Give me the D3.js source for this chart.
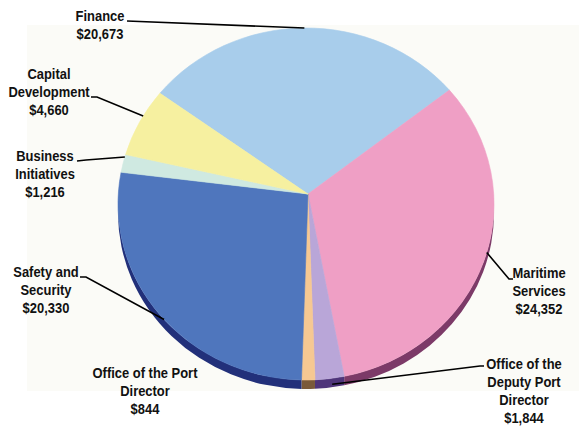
<!DOCTYPE html>
<html>
<head>
<meta charset="utf-8">
<script src="https://cdn.jsdelivr.net/npm/d3@7"></script>
<style>
  body { margin: 0; background: #ffffff; }
  svg text { font-family: "Liberation Sans", Arial, sans-serif; font-weight: bold; font-size: 14px; fill: #111; }
</style>
</head>
<body>
<svg id="chart" width="579" height="430"></svg>
<script>
// Budget by division (thousands of dollars), clockwise from Finance
const categories = [
  "Finance",
  "Maritime Services",
  "Office of the Deputy Port Director",
  "Office of the Port Director",
  "Safety and Security",
  "Business Initiatives",
  "Capital Development"
];
const values = [20673, 24352, 1844, 844, 20330, 1216, 4660];
const labelLines = [
  ["Finance"],
  ["Maritime", "Services"],
  ["Office of the", "Deputy Port", "Director"],
  ["Office of the Port", "Director"],
  ["Safety and", "Security"],
  ["Business", "Initiatives"],
  ["Capital", "Development"]
];
const topColors  = ["#a8cdeb", "#ef9fc5", "#b9a6d8", "#f6c892", "#4f76bd", "#cfe9e1", "#f6f0a0"];
const sideColors = ["#6c8fb0", "#7c3a68", "#4f357a", "#7a5a3a", "#22307a", "#8aa8a0", "#b0a860"];

// Layout of the tilted pie
const W = 579, H = 430;
const cx = 306, cy = 204, rx = 188, ry = 176, depth = 9;
const apex = [308, 194];
const deg = Math.PI / 180;

// Label placement: centre x, first baseline, leader-line anchor angle and route
const labelLayout = [
  { x: 100, y: 21,  angle: -0.5, route: [[127, 21]] },
  { x: 539, y: 278, angle: 106,  route: [[513, 279], [509, 279]] },
  { x: 524, y: 369, angle: 172,  route: [[484, 366], [480, 366]], drop: 6 },
  { x: 145, y: 378, angle: null },
  { x: 46,  y: 277, angle: 229,  route: [[80, 277], [86, 277]] },
  { x: 45,  y: 161, angle: 285.5, route: [[77, 161], [86, 160]] },
  { x: 49,  y: 79,  angle: 300,  route: [[91, 97], [97, 97]], lineOffset: 1 }
];
const lineGap = 18;
const fmt = d3.format(",");

const svg = d3.select("#chart");

// pale panel behind the pie
svg.append("rect")
  .attr("x", 27).attr("y", 25).attr("width", W - 27).attr("height", 366)
  .attr("fill", "#fbfbf7");

const pie = d3.pie().sort(null).value(d => d)
  .startAngle(-51 * deg).endAngle(-51 * deg + 2 * Math.PI);
const arcs = pie(values);

const rim = a => [cx + rx * Math.sin(a), cy - ry * Math.cos(a)];

// Side wall (front half only)
const sideG = svg.append("g");
arcs.forEach((d, i) => {
  let a0 = d.startAngle, a1 = d.endAngle;
  // normalise into [0, 2π)
  while (a0 < 0) { a0 += 2 * Math.PI; a1 += 2 * Math.PI; }
  const lo = Math.max(a0, Math.PI / 2), hi = Math.min(a1, 3 * Math.PI / 2);
  if (hi <= lo) return;
  const p0 = rim(lo), p1 = rim(hi);
  const path = `M${p0[0]},${p0[1]} A${rx},${ry} 0 0 1 ${p1[0]},${p1[1]}`
    + ` L${p1[0]},${p1[1] + depth} A${rx},${ry} 0 0 0 ${p0[0]},${p0[1] + depth} Z`;
  sideG.append("path").attr("d", path).attr("fill", sideColors[i]);
});

// Top faces
const topG = svg.append("g");
arcs.forEach((d, i) => {
  const p0 = rim(d.startAngle), p1 = rim(d.endAngle);
  const large = (d.endAngle - d.startAngle) > Math.PI ? 1 : 0;
  const path = `M${apex[0]},${apex[1]} L${p0[0]},${p0[1]}`
    + ` A${rx},${ry} 0 ${large} 1 ${p1[0]},${p1[1]} Z`;
  topG.append("path").attr("d", path)
    .attr("fill", topColors[i])
    .attr("stroke", topColors[i]).attr("stroke-width", 0.6);
});

// Leader lines
const line = d3.line();
labelLayout.forEach((L, i) => {
  if (L.angle == null) return;
  const end = rim(L.angle * deg);
  end[1] += (L.drop || 0);
  svg.append("path")
    .attr("d", line(L.route.concat([end])))
    .attr("fill", "none").attr("stroke", "#000").attr("stroke-width", 1.6);
});

// Labels
labelLayout.forEach((L, i) => {
  const lines = labelLines[i].concat(["$" + fmt(values[i])]);
  const g = svg.append("g").attr("transform", `translate(${L.x},${L.y}) scale(0.925,1)`);
  lines.forEach((t, k) => {
    g.append("text").attr("x", 0).attr("y", k * lineGap)
      .attr("text-anchor", "middle").text(t);
  });
});
</script>
</body>
</html>
